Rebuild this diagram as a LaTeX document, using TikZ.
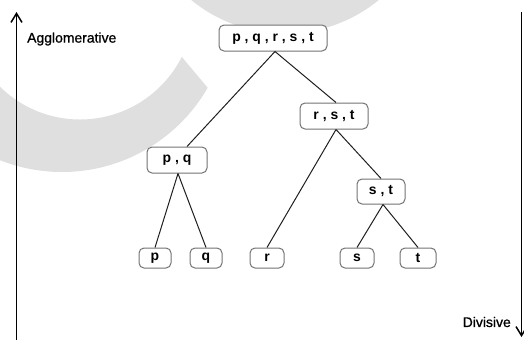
\documentclass[tikz,border=0pt]{standalone}
\usepackage{fontspec}
\setmainfont{Liberation Sans}
\newfontfamily\labelfont{Liberation Sans}[FakeBold=0.9]
\usetikzlibrary{arrows.meta}
\definecolor{wm}{gray}{0.875}
\definecolor{bordergray}{gray}{0.45}
\definecolor{edgeblack}{gray}{0.12}
\begin{document}
\begin{tikzpicture}[x=1bp,y=-1bp,
  cl/.style={draw=bordergray, line width=1bp, rounded corners=5bp, fill=white,
    inner sep=0pt, minimum height=26bp, font=\fontsize{14}{16}\selectfont\bfseries},
  leaf/.style={cl, minimum height=20bp},
  edge/.style={draw=edgeblack, line width=1bp},
  axis/.style={draw=black, line width=1.5bp, -{Straight Barb[length=9bp,width=11bp]}},
  lbl/.style={inner sep=0pt, font=\fontsize{14}{16}\selectfont\labelfont}]
\useasboundingbox (0,0) rectangle (524,340);
% watermark
\begin{scope}
  \clip (0,0) rectangle (524,340);
  \begin{scope}
    \clip (-5,-5) -- (130,-5) -- (300,198) -- (-5,345) -- cycle;
    \fill[wm, even odd rule] (62,4) circle[radius=168bp] (80,5.5) circle[radius=114bp];
  \end{scope}
  \fill[wm] (285,-114.5) circle[radius=148bp];
\end{scope}
% axes
\coordinate (lb) at (16.5,340);
\coordinate (lt) at (16.5,12);
\coordinate (rt) at (521.5,12);
\coordinate (rb) at (521.5,337);
\draw[axis] (lb) -- (lt);
\draw[axis] (rt) -- (rb);
\node[lbl, anchor=west] (agg) at (27,39) {Agglomerative};
\node[lbl, anchor=east] (div) at (511,322) {Divisive};
% nodes
\node[cl, minimum width=108bp] (root) at (273,38) {p , q , r , s , t};
\node[cl, minimum width=68bp] (rst) at (334,116) {r , s , t};
\node[cl, minimum width=60bp] (pq) at (177,160) {p , q};
\node[cl, minimum width=48bp, minimum height=25bp] (st) at (381,191.5) {s , t};
\node[leaf, minimum width=32bp] (p) at (155,258) {p};
\node[leaf, minimum width=32bp] (q) at (206,258) {q};
\node[leaf, minimum width=34bp] (r) at (267,258) {r};
\node[leaf, minimum width=34bp] (s) at (357,258) {s};
\node[leaf, minimum width=36bp] (t) at (418,258) {t};
% edges
\draw[edge] ([xshift=2bp]root.south) -- ([xshift=10bp]pq.north);
\draw[edge] ([xshift=2bp]root.south) -- ([xshift=2bp]rst.north);
\draw[edge] ([xshift=1bp]pq.south) -- (p.north);
\draw[edge] ([xshift=1bp]pq.south) -- (q.north);
\draw[edge] ([xshift=2bp]rst.south) -- (r.north);
\draw[edge] ([xshift=2bp]rst.south) -- (st.north);
\draw[edge] ([xshift=2bp]st.south) -- (s.north);
\draw[edge] ([xshift=2bp]st.south) -- (t.north);
\end{tikzpicture}
\end{document}
